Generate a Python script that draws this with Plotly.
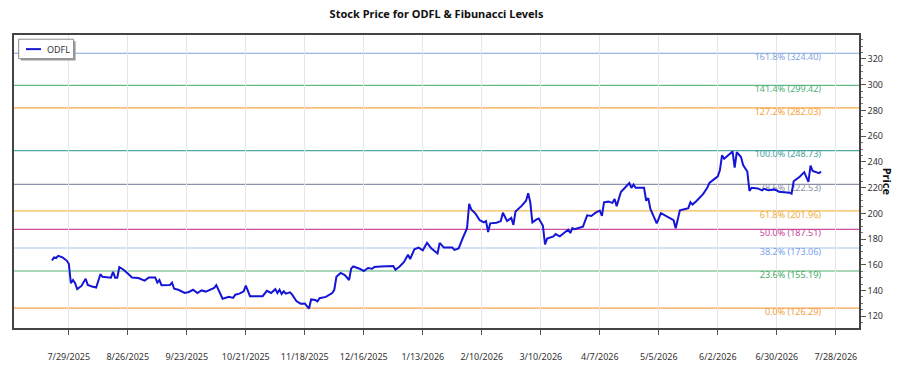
import plotly.graph_objects as go

# ---- data ----
dates = [
    "2025-07-21", "2025-07-22", "2025-07-23", "2025-07-24", "2025-07-26", "2025-07-28", "2025-07-29",
    "2025-07-30", "2025-07-31", "2025-08-01", "2025-08-02", "2025-08-03", "2025-08-04", "2025-08-06",
    "2025-08-07", "2025-08-09", "2025-08-11", "2025-08-13", "2025-08-14", "2025-08-18", "2025-08-19",
    "2025-08-20", "2025-08-21", "2025-08-22", "2025-08-24", "2025-08-26", "2025-08-28", "2025-08-31",
    "2025-09-03", "2025-09-05", "2025-09-08", "2025-09-09", "2025-09-10", "2025-09-11", "2025-09-13",
    "2025-09-15", "2025-09-16", "2025-09-17", "2025-09-19", "2025-09-22", "2025-09-24", "2025-09-26",
    "2025-09-28", "2025-09-30", "2025-10-02", "2025-10-04", "2025-10-06", "2025-10-07", "2025-10-08",
    "2025-10-10", "2025-10-13", "2025-10-15", "2025-10-16", "2025-10-18", "2025-10-20", "2025-10-21",
    "2025-10-23", "2025-10-25", "2025-10-28", "2025-10-29", "2025-10-31", "2025-11-02", "2025-11-04",
    "2025-11-05", "2025-11-06", "2025-11-07", "2025-11-08", "2025-11-09", "2025-11-11", "2025-11-12",
    "2025-11-14", "2025-11-16", "2025-11-18", "2025-11-20", "2025-11-21", "2025-11-23", "2025-11-24",
    "2025-11-25", "2025-11-28", "2025-12-01", "2025-12-02", "2025-12-03", "2025-12-05", "2025-12-07",
    "2025-12-09", "2025-12-10", "2025-12-11", "2025-12-14", "2025-12-16", "2025-12-18", "2025-12-20",
    "2025-12-21", "2025-12-24", "2025-12-30", "2025-12-31", "2026-01-02", "2026-01-04", "2026-01-06",
    "2026-01-07", "2026-01-09", "2026-01-11", "2026-01-13", "2026-01-15", "2026-01-17", "2026-01-20",
    "2026-01-21", "2026-01-23", "2026-01-27", "2026-01-28", "2026-01-30", "2026-02-01", "2026-02-03",
    "2026-02-04", "2026-02-05", "2026-02-07", "2026-02-09", "2026-02-11", "2026-02-12", "2026-02-13",
    "2026-02-14", "2026-02-17", "2026-02-19", "2026-02-20", "2026-02-22", "2026-02-24", "2026-02-25",
    "2026-02-26", "2026-03-01", "2026-03-03", "2026-03-04", "2026-03-05", "2026-03-06", "2026-03-08",
    "2026-03-09", "2026-03-11", "2026-03-12", "2026-03-13", "2026-03-16", "2026-03-17", "2026-03-19",
    "2026-03-21", "2026-03-23", "2026-03-24", "2026-03-25", "2026-03-26", "2026-03-28", "2026-03-30",
    "2026-04-01", "2026-04-03", "2026-04-05", "2026-04-07", "2026-04-08", "2026-04-09", "2026-04-11",
    "2026-04-13", "2026-04-14", "2026-04-15", "2026-04-17", "2026-04-19", "2026-04-21", "2026-04-22",
    "2026-04-23", "2026-04-24", "2026-04-28", "2026-04-29", "2026-04-30", "2026-05-01", "2026-05-04",
    "2026-05-06", "2026-05-08", "2026-05-11", "2026-05-12", "2026-05-13", "2026-05-15", "2026-05-18",
    "2026-05-19", "2026-05-20", "2026-05-21", "2026-05-23", "2026-05-26", "2026-05-28", "2026-05-29",
    "2026-05-31", "2026-06-02", "2026-06-03", "2026-06-04", "2026-06-05", "2026-06-09", "2026-06-10",
    "2026-06-11", "2026-06-13", "2026-06-14", "2026-06-16", "2026-06-17", "2026-06-18", "2026-06-21",
    "2026-06-23", "2026-06-24", "2026-06-26", "2026-06-29", "2026-07-01", "2026-07-03", "2026-07-06",
    "2026-07-07", "2026-07-08", "2026-07-11", "2026-07-13", "2026-07-15", "2026-07-16", "2026-07-17",
    "2026-07-20", "2026-07-21",
]
prices = [
    163.3, 165.8, 165.3, 167.0, 165.8, 163.3, 160.8,
    145.7, 148.2, 145.7, 141.1, 142.6, 143.6, 149.2,
    144.4, 143.2, 142.4, 152.7, 150.7, 150.0, 154.5,
    150.0, 150.0, 158.3, 156.2, 153.2, 150.2, 149.7,
    147.7, 150.2, 150.2, 146.2, 148.2, 144.2, 144.4,
    144.4, 146.2, 141.4, 140.6, 138.1, 138.9, 140.6,
    138.1, 140.1, 139.2, 140.6, 142.1, 144.2, 140.6,
    133.6, 135.1, 134.3, 136.8, 137.6, 139.4, 143.9,
    135.6, 135.6, 136.1, 135.6, 139.8, 138.1, 141.1,
    138.1, 140.6, 137.4, 139.4, 137.6, 138.6, 136.8,
    131.8, 129.8, 130.0, 126.0, 133.1, 132.6, 131.6,
    134.1, 135.1, 138.1, 140.6, 150.7, 153.7, 152.0,
    148.2, 157.0, 158.7, 157.0, 155.2, 157.5, 157.0,
    158.3, 158.7, 159.0, 156.2, 158.7, 162.0, 167.8,
    164.5, 172.1, 173.4, 171.3, 177.1, 172.8, 168.8,
    177.1, 173.4, 173.4, 171.6, 172.8, 180.9, 188.5,
    207.3, 203.0, 199.8, 194.7, 193.0, 194.0, 185.4,
    192.2, 192.7, 194.0, 200.5, 194.0, 196.5, 191.0,
    201.5, 206.0, 209.8, 215.6, 208.6, 193.0, 195.3,
    196.0, 190.4, 175.8, 180.4, 182.1, 183.9, 182.1,
    184.7, 187.2, 184.7, 188.5, 187.7, 188.9, 189.7,
    198.5, 198.0, 200.5, 202.1, 198.0, 208.6, 209.1,
    208.1, 211.1, 205.6, 216.6, 219.8, 223.6, 219.8,
    222.4, 219.8, 219.8, 209.8, 211.8, 203.5, 192.2,
    200.2, 198.5, 196.0, 194.7, 188.5, 202.3, 203.5,
    204.0, 208.6, 206.8, 209.8, 214.9, 219.8, 223.6,
    226.2, 228.7, 233.7, 245.1, 242.5, 248.1, 235.5,
    247.5, 243.8, 237.5, 232.5, 217.4, 219.8, 219.4,
    217.9, 219.1, 217.9, 218.6, 216.8, 216.6, 216.1,
    215.3, 224.9, 228.7, 232.0, 224.4, 237.0, 233.0,
    231.2, 232.5,
]

fib_ratios = ["161.8%", "141.4%", "127.2%", "100.0%", "78.6%", "61.8%", "50.0%", "38.2%", "23.6%", "0.0%"]
fib_levels = [324.40, 299.42, 282.03, 248.73, 222.53, 201.96, 187.51, 173.06, 155.19, 126.29]
fib_line_colors = ["#7FA4DC", "#62BA84", "#F6A73F", "#4FA9A2", "#8D93AC",
                   "#F2BA55", "#CF4F9C", "#A9C5F2", "#57B173", "#F7A24D"]
fib_text_colors = ["#7FA4DC", "#4DB078", "#F4A23A", "#3F9F98", "#8890A6",
                   "#EBAE3E", "#C8479A", "#78A2EA", "#45AA68", "#F0A043"]

tick_dates = ["2025-07-29", "2025-08-26", "2025-09-23", "2025-10-21", "2025-11-18", "2025-12-16",
              "2026-01-13", "2026-02-10", "2026-03-10", "2026-04-07", "2026-05-05", "2026-06-02",
              "2026-06-30", "2026-07-28"]
tick_labels = ["7/29/2025", "8/26/2025", "9/23/2025", "10/21/2025", "11/18/2025", "12/16/2025",
               "1/13/2026", "2/10/2026", "3/10/2026", "4/7/2026", "5/5/2026", "6/2/2026",
               "6/30/2026", "7/28/2026"]

series_name = "ODFL"
line_color = "#1515D6"

FONT = "Noto Sans, Open Sans, sans-serif"

fig = go.Figure()

# fib labels (text trace drawn below the price line)
fig.add_trace(go.Scatter(
    x=[dates[-1]] * len(fib_levels),
    y=fib_levels,
    mode="text",
    text=[f"{r} ({v:.2f})" for r, v in zip(fib_ratios, fib_levels)],
    textposition="bottom left",
    textfont=dict(family=FONT, size=9, color=fib_text_colors),
    showlegend=False,
    hoverinfo="skip",
))

fig.add_trace(go.Scatter(
    x=dates, y=prices, mode="lines", name=series_name,
    line=dict(color=line_color, width=2),
    showlegend=False,
))

for lvl, col in zip(fib_levels, fib_line_colors):
    fig.add_shape(type="line", xref="paper", x0=0, x1=1, yref="y", y0=lvl, y1=lvl,
                  line=dict(color=col, width=1.2), layer="below")

# legend box (drawn as shapes + text, with drop shadow)
fig.add_shape(type="rect", xref="paper", yref="paper", x0=0.0079, x1=0.0729, y0=0.9126, y1=0.979,
              line=dict(width=0), fillcolor="#9A9A9A", layer="above")
fig.add_shape(type="rect", xref="paper", yref="paper", x0=0.0055, x1=0.0705, y0=0.9193, y1=0.9857,
              line=dict(color="#8A8A8A", width=1), fillcolor="white", layer="above")
fig.add_shape(type="line", xref="paper", yref="paper", x0=0.0142, x1=0.0319, y0=0.9518, y1=0.9518,
              line=dict(color=line_color, width=2), layer="above")

fig.update_layout(
    width=900, height=375,
    margin=dict(l=12, r=41, t=35, b=39),
    paper_bgcolor="white", plot_bgcolor="white",
    font=dict(family=FONT, size=9, color="#333333"),
    title=dict(text="<b>Stock Price for ODFL & Fibunacci Levels</b>", xref="paper", x=0.5, xanchor="center",
               y=0.962, yanchor="middle", font=dict(family=FONT, size=11, color="#111111")),
    showlegend=False,
    xaxis=dict(
        type="date", range=["2025-07-03", "2026-08-08"],
        tickvals=tick_dates, ticktext=tick_labels,
        ticks="outside", ticklen=5, tickcolor="#555555",
        ticklabelstandoff=14,
        showgrid=True, gridcolor="#E6E6E6", gridwidth=1,
        showline=True, linecolor="#444444", linewidth=1.5, mirror=True,
        zeroline=False,
        tickfont=dict(family=FONT, size=9, color="#333333"),
    ),
    yaxis=dict(
        side="right", range=[110.9, 338.6],
        dtick=20, ticks="outside", ticklen=5, tickcolor="#555555",
        minor=dict(dtick=5, ticks="outside", ticklen=2, tickcolor="#777777", showgrid=False),
        showgrid=False, zeroline=False,
        showline=True, linecolor="#444444", linewidth=1.5, mirror=True,
        tickfont=dict(family=FONT, size=9, color="#333333"),
    ),
    annotations=[
        dict(text="<b>Price</b>", xref="paper", yref="paper", x=1.034, y=0.5,
             xanchor="center", yanchor="middle", showarrow=False, textangle=90,
             font=dict(family=FONT, size=11, color="#111111")),
        dict(text=series_name, xref="paper", yref="paper", x=0.0366, y=0.9518,
             xanchor="left", yanchor="middle", showarrow=False,
             font=dict(family=FONT, size=9, color="#333333")),
    ],
)

fig.write_html("out.html")
